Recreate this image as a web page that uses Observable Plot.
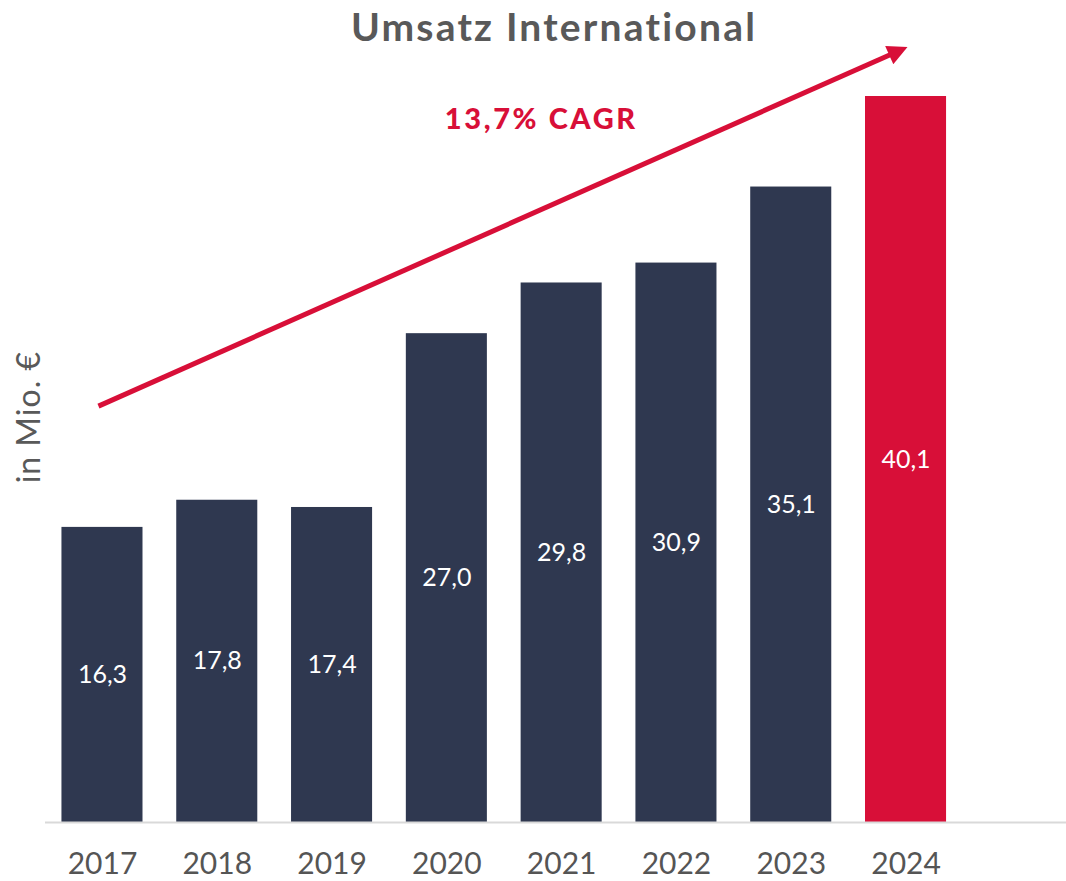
<!DOCTYPE html>
<html>
<head>
<meta charset="utf-8">
<script src="https://cdn.jsdelivr.net/npm/d3@7"></script>
<script src="https://cdn.jsdelivr.net/npm/@observablehq/plot@0.6"></script>
<style>
  html, body { margin: 0; padding: 0; background: #ffffff; }
  #wrap { position: relative; width: 1066px; height: 881px; font-family: Lato, "Noto Sans", sans-serif; }
  #title { position: absolute; left: 0; top: 4px; width: 1108px; text-align: center; font-size: 39px; font-weight: 700; color: #595959; line-height: 44px; letter-spacing: 2.2px; }
  #chart { position: absolute; left: 0; top: 0; }
</style>
</head>
<body>
<div id="wrap">
  <div id="chart"></div>
  <div id="title">Umsatz International</div>
</div>
<script>
const years = ["2017", "2018", "2019", "2020", "2021", "2022", "2023", "2024"];
const values = [16.3, 17.8, 17.4, 27.0, 29.8, 30.9, 35.1, 40.1];
const labels = ["16,3", "17,8", "17,4", "27,0", "29,8", "30,9", "35,1", "40,1"];
const highlightYear = "2024";
const yLabel = "in Mio. €";
const cagrLabel = "13,7% CAGR";
const cagrArrow = [{x1: "2017", y1: 23.0, x2: "2024", y2: 42.7}];
const cagrText = [{x: "2020", y: 38.8, text: cagrLabel}];

const navy = "#2f3850";
const red = "#d80f38";

const data = years.map((y, i) => ({year: y, value: values[i], label: labels[i]}));
const domain = [...years, " "];

const arrowHead = (color, context) => {
  const ns = "http://www.w3.org/2000/svg";
  const m = document.createElementNS(ns, "marker");
  m.setAttribute("viewBox", "-7 -5 10 10");
  m.setAttribute("markerWidth", "4.4");
  m.setAttribute("markerHeight", "4");
  m.setAttribute("orient", "auto");
  m.setAttribute("fill", color);
  m.setAttribute("stroke", "none");
  const p = document.createElementNS(ns, "path");
  p.setAttribute("d", "M-7,-5L3,0L-7,5Z");
  m.appendChild(p);
  return m;
};

const chart = Plot.plot({
  width: 1066,
  height: 881,
  marginLeft: 45,
  marginRight: 0,
  marginTop: 25.4,
  marginBottom: 59,
  style: {fontFamily: "Lato, 'Noto Sans', sans-serif", background: "#ffffff"},
  x: {domain, range: [27.7, 1094.6], padding: 0.294, round: false, axis: null},
  y: {domain: [0, 44], axis: null},
  marks: [
    Plot.barY(data, {x: "year", y: "value", fill: d => d.year === highlightYear ? red : navy}),
    Plot.ruleY([0], {stroke: "#d9d9d9", strokeWidth: 2}),
    Plot.axisX({domain: years, tickSize: 0, tickPadding: 30, fontSize: 30, color: "#555555", label: null}),
    Plot.text(data, {x: "year", y: d => d.value / 2, text: "label", fill: "#ffffff", fontSize: 25}),
    Plot.link(cagrArrow, {x1: "x1", y1: "y1", x2: "x2", y2: "y2", dx: -4, stroke: red, strokeWidth: 5, markerEnd: arrowHead}),
    Plot.text(cagrText, {x: "x", y: "y", text: "text", textAnchor: "start", dx: -2, fill: red, fontSize: 29, fontWeight: 900}),
    Plot.text([yLabel], {frameAnchor: "left", textAnchor: "middle", rotate: -90, dx: -16, dy: -7, fill: "#595959", fontSize: 32})
  ]
});
chart.querySelectorAll("text").forEach(t => {
  if (t.textContent === cagrLabel) t.style.letterSpacing = "2.6px";
  if (t.textContent === yLabel) t.style.letterSpacing = "1px";
});
document.getElementById("chart").appendChild(chart);
</script>
</body>
</html>
